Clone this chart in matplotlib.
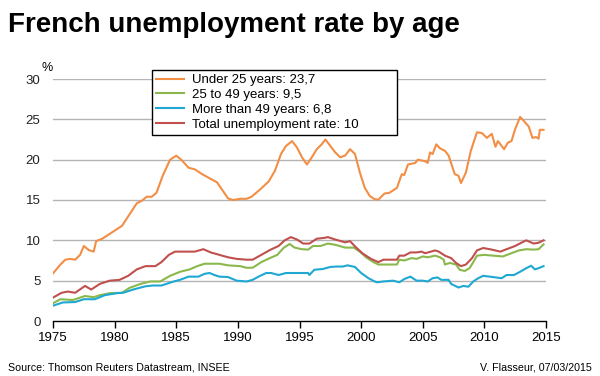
import matplotlib.pyplot as plt

plt.rcParams['font.family'] = ['Liberation Sans', 'DejaVu Sans']

# Under 25 years (orange)
y25_years = [1975.0, 1975.6, 1976.0, 1976.4, 1976.8, 1977.2, 1977.5, 1977.9, 1978.3, 1978.5,
             1979.0, 1979.5, 1980.0, 1980.6, 1981.2, 1981.8, 1982.2, 1982.6, 1983.0, 1983.4,
             1983.9, 1984.5, 1985.0, 1985.4, 1986.0, 1986.5, 1987.1, 1987.7, 1988.3, 1988.8,
             1989.2, 1989.6, 1990.2, 1990.7, 1991.1, 1991.8, 1992.5, 1993.0, 1993.5, 1993.9,
             1994.4, 1994.8, 1995.2, 1995.6, 1996.0, 1996.4, 1996.8, 1997.1, 1997.5, 1997.9,
             1998.3, 1998.7, 1999.1, 1999.5, 1999.9, 2000.3, 2000.7, 2001.1, 2001.4, 2001.9,
             2002.3, 2002.9, 2003.3, 2003.5, 2003.8, 2004.4, 2004.6, 2005.2, 2005.4, 2005.6,
             2005.8, 2006.1, 2006.4, 2006.8, 2007.1, 2007.6, 2007.9, 2008.1, 2008.5, 2008.9,
             2009.4, 2009.8, 2010.2, 2010.6, 2010.9, 2011.1, 2011.6, 2011.9, 2012.2, 2012.5,
             2012.9, 2013.2, 2013.6, 2013.9, 2014.2, 2014.4, 2014.5, 2014.8]
y25_rate = [5.9, 7.0, 7.6, 7.7, 7.6, 8.2, 9.3, 8.8, 8.6, 9.9,
            10.2, 10.7, 11.2, 11.8, 13.2, 14.6, 14.9, 15.4, 15.4, 15.9,
            18.0, 20.0, 20.5, 20.0, 19.0, 18.8, 18.2, 17.7, 17.2, 16.1,
            15.2, 15.0, 15.15, 15.15, 15.4, 16.3, 17.3, 18.6, 20.7, 21.7,
            22.3, 21.5, 20.3, 19.4, 20.3, 21.3, 21.9, 22.5, 21.7, 20.9,
            20.3, 20.5, 21.3, 20.7, 18.4, 16.5, 15.5, 15.1, 15.05, 15.8,
            15.9, 16.5, 18.2, 18.1, 19.4, 19.6, 20.0, 19.8, 19.6, 20.9,
            20.7, 21.9, 21.4, 21.1, 20.5, 18.2, 18.0, 17.1, 18.4, 21.1,
            23.4, 23.3, 22.7, 23.2, 21.6, 22.3, 21.3, 22.1, 22.3, 23.8,
            25.3, 24.8, 24.1, 22.7, 22.8, 22.6, 23.7, 23.7]

# 25 to 49 years (green)
mid_years = [1975.0, 1975.6, 1976.6, 1977.6, 1978.3, 1978.8, 1979.6, 1980.6, 1981.2, 1982.1,
             1982.9, 1983.7, 1984.5, 1985.3, 1986.1, 1986.7, 1987.3, 1988.0, 1988.5, 1989.2,
             1990.2, 1990.7, 1991.2, 1991.9, 1992.6, 1993.2, 1993.7, 1994.2, 1994.6, 1995.2,
             1995.7, 1996.1, 1996.7, 1997.3, 1997.9, 1998.7, 1999.4, 1999.9, 2000.4, 2001.0,
             2001.4, 2002.9, 2003.1, 2003.5, 2004.1, 2004.5, 2005.0, 2005.4, 2006.0, 2006.4,
             2006.7, 2006.8, 2007.2, 2007.7, 2008.0, 2008.4, 2008.8, 2009.1, 2009.4, 2010.0,
             2010.7, 2011.5, 2012.1, 2012.8, 2013.4, 2014.0, 2014.4, 2014.8]
mid_rate = [2.2, 2.7, 2.6, 3.1, 2.95, 3.2, 3.45, 3.5, 4.1, 4.6,
            4.9, 4.9, 5.6, 6.1, 6.4, 6.8, 7.1, 7.1, 7.1, 6.9,
            6.8, 6.6, 6.6, 7.3, 7.8, 8.2, 9.05, 9.55, 9.1, 8.9,
            8.85, 9.3, 9.3, 9.6, 9.45, 9.1, 9.1, 8.6, 7.9, 7.3,
            7.0, 7.0, 7.6, 7.5, 7.8, 7.7, 8.0, 7.9, 8.1, 7.9,
            7.6, 7.0, 7.2, 7.0, 6.35, 6.2, 6.55, 7.3, 8.1, 8.2,
            8.1, 8.0, 8.35, 8.75, 8.9, 8.85, 8.9, 9.5]

# More than 49 years (blue)
old_years = [1975.0, 1975.8, 1976.8, 1977.5, 1978.4, 1979.2, 1980.2, 1980.7, 1981.5, 1982.5,
             1983.1, 1983.8, 1984.8, 1985.3, 1986.0, 1986.8, 1987.3, 1987.7, 1988.1, 1988.5,
             1989.2, 1989.9, 1990.7, 1991.2, 1991.8, 1992.3, 1992.7, 1993.3, 1993.9, 1994.8,
             1995.7, 1995.8, 1996.2, 1996.9, 1997.5, 1998.0, 1998.5, 1998.9, 1999.5, 2000.0,
             2000.6, 2001.1, 2001.3, 2001.8, 2002.6, 2003.1, 2003.5, 2004.0, 2004.5, 2005.0,
             2005.4, 2005.8, 2006.2, 2006.5, 2007.1, 2007.3, 2007.9, 2008.3, 2008.7, 2009.1,
             2009.5, 2009.9, 2010.7, 2011.4, 2011.8, 2012.4, 2012.9, 2013.4, 2013.8, 2014.1,
             2014.4, 2014.8]
old_rate = [1.9, 2.3, 2.35, 2.7, 2.7, 3.2, 3.45, 3.5, 3.9, 4.3,
            4.4, 4.4, 4.9, 5.1, 5.5, 5.5, 5.85, 5.95, 5.7, 5.5,
            5.45, 5.0, 4.9, 5.1, 5.6, 5.95, 5.95, 5.7, 5.95, 5.95,
            5.95, 5.7, 6.35, 6.45, 6.7, 6.75, 6.75, 6.9, 6.7, 5.95,
            5.3, 4.9, 4.8, 4.9, 5.0, 4.8, 5.2, 5.5, 5.0, 5.0,
            4.9, 5.3, 5.4, 5.1, 5.1, 4.6, 4.15, 4.35, 4.25, 4.9,
            5.3, 5.6, 5.45, 5.3, 5.7, 5.7, 6.1, 6.55, 6.85, 6.4,
            6.55, 6.8]

# Total unemployment rate (red)
tot_years = [1975.0, 1975.7, 1976.2, 1976.8, 1977.6, 1978.1, 1978.8, 1979.6, 1980.4, 1981.1,
             1981.8, 1982.5, 1983.3, 1983.8, 1984.4, 1984.9, 1985.6, 1986.5, 1987.2, 1987.8,
             1988.5, 1989.2, 1989.9, 1990.7, 1991.2, 1991.9, 1992.6, 1993.3, 1993.8, 1994.3,
             1994.8, 1995.3, 1995.8, 1996.4, 1997.0, 1997.3, 1997.9, 1998.7, 1999.1, 1999.5,
             2000.1, 2000.8, 2001.4, 2001.8, 2002.9, 2003.1, 2003.5, 2004.0, 2004.5, 2004.9,
             2005.2, 2006.0, 2006.3, 2006.8, 2007.3, 2007.7, 2008.1, 2008.5, 2009.0, 2009.4,
             2009.9, 2010.6, 2011.3, 2011.8, 2012.5, 2013.0, 2013.4, 2014.0, 2014.4, 2014.8]
tot_rate = [2.9, 3.5, 3.65, 3.5, 4.35, 3.9, 4.6, 5.0, 5.1, 5.6,
            6.4, 6.8, 6.8, 7.3, 8.2, 8.6, 8.6, 8.6, 8.9, 8.5,
            8.2, 7.9, 7.7, 7.6, 7.6, 8.2, 8.8, 9.3, 10.0, 10.4,
            10.1, 9.6, 9.6, 10.2, 10.3, 10.4, 10.1, 9.75, 9.9, 9.25,
            8.4, 7.7, 7.3, 7.6, 7.6, 8.1, 8.1, 8.5, 8.5, 8.6,
            8.4, 8.75, 8.6, 8.1, 7.8, 7.2, 6.8, 7.0, 7.8, 8.75,
            9.05, 8.85, 8.6, 8.9, 9.3, 9.7, 10.0, 9.6, 9.7, 10.0]

labels = ["Under 25 years: 23,7", "25 to 49 years: 9,5",
          "More than 49 years: 6,8", "Total unemployment rate: 10"]
colors = ['#f28e45', '#8ab84c', '#1ea8d2', '#c0504d']

fig = plt.figure(figsize=(6, 3.76), dpi=100)
ax = fig.add_axes([53 / 600, 55 / 376, 493 / 600, 242 / 376])

ax.plot(y25_years, y25_rate, color=colors[0], lw=1.5, label=labels[0])
ax.plot(mid_years, mid_rate, color=colors[1], lw=1.5, label=labels[1])
ax.plot(old_years, old_rate, color=colors[2], lw=1.5, label=labels[2])
ax.plot(tot_years, tot_rate, color=colors[3], lw=1.5, label=labels[3])

ax.set_xlim(1975, 2015)
ax.set_ylim(0, 30)
ax.set_xticks(range(1975, 2016, 5))
ax.set_yticks(range(0, 31, 5))
for v in range(5, 31, 5):
    ax.axhline(v, color='#b4b4b4', lw=1, zorder=0)

for s in ['left', 'right', 'top']:
    ax.spines[s].set_visible(False)
ax.spines['bottom'].set_color('black')
ax.spines['bottom'].set_linewidth(1)
ax.tick_params(axis='x', direction='out', length=5, width=1, labelsize=9.5, pad=3)
ax.tick_params(axis='y', length=0, labelsize=9.5, pad=9, colors='#222222')

fig.text(47 / 600, 1 - 68 / 376, '%', fontsize=9, ha='center', va='center')

fig.text(8 / 600, 1 - 25 / 376, 'French unemployment rate by age',
         fontsize=20, fontweight='bold', ha='left', va='center')

# legend box stretched to the reference width
leg = ax.legend(loc='upper left',
                bbox_to_anchor=(152 / 600, 1 - 133 / 376, 245 / 600, 63 / 376),
                bbox_transform=fig.transFigure, mode='expand',
                fontsize=9.5, frameon=True, fancybox=False, edgecolor='black',
                framealpha=1, handlelength=2.1, handletextpad=0.6, borderpad=0.3,
                labelspacing=0.2, borderaxespad=0)
leg.get_frame().set_linewidth(1)

fig.text(8 / 600, 1 - 367 / 376, 'Source: Thomson Reuters Datastream, INSEE',
         fontsize=7.7, ha='left', va='center')
fig.text(592 / 600, 1 - 367 / 376, 'V. Flasseur, 07/03/2015',
         fontsize=7.7, ha='right', va='center')

fig.savefig('out.png', dpi=100)
